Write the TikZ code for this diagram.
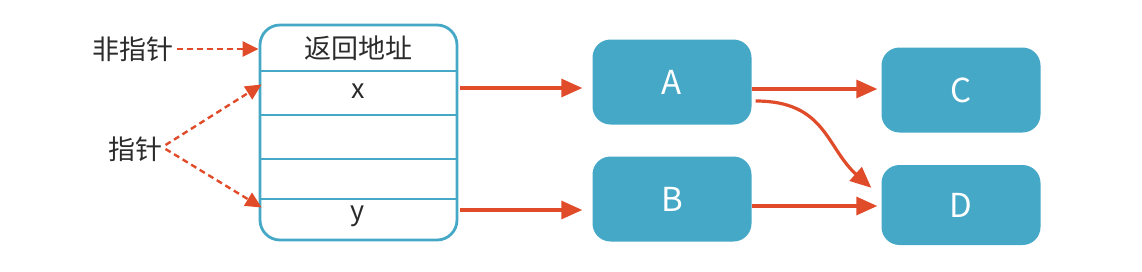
\documentclass[tikz,border=0pt]{standalone}
\usepackage{fontspec}
\usepackage{tikz}
\usetikzlibrary{arrows.meta,positioning,calc}
\usepackage{xcolor}
\newfontfamily\cjk{Noto Sans CJK SC}
\definecolor{Ink}{HTML}{2B2B2B}
\definecolor{Sea}{HTML}{44A8C6}
\definecolor{Rust}{HTML}{E04B2A}
\tikzset{
  objbox/.style={fill=Sea,rounded corners=18pt,minimum width=159pt,minimum height=85pt,
    text=white,font=\cjk\fontsize{33}{36}\selectfont},
  link/.style={Rust,line width=3.2pt,-{Triangle[length=21pt,width=18pt]}},
  ptr/.style={Rust,line width=2.4pt,dash pattern=on 6pt off 4pt,-{Triangle[length=16pt,width=15pt]}},
  lbl/.style={text=Ink,font=\cjk\fontsize{27}{30}\selectfont}
}

\begin{document}
\begin{tikzpicture}[x=1pt,y=-1pt]
\useasboundingbox (0,0) rectangle (1142,271);
% stack frame
\node[draw=Sea,line width=2.8pt,rounded corners=20pt,minimum width=197pt,minimum height=215pt] (stack) at (358.5,132.5) {};
\foreach \y in {71,115,159,199} {
  \draw[Sea,line width=2.6pt] (stack.west |- 0,\y) -- (stack.east |- 0,\y);
}
\node[lbl] (ret) at (358,48) {返回地址};
\node[lbl] (xv) at (358,91) {x};
\node[lbl] (yv) at (358,216) {y};
% labels on the left
\node[lbl] (np) at (133,49) {非指针};
\node[lbl] (pt) at (135,149) {指针};
\draw[ptr] (np.east) -- (np.east -| stack.west);
\draw[ptr] ([shift={(0pt,4pt)}]pt.east) -- ([shift={(3pt,48pt)}]stack.west);
\draw[ptr] ([shift={(0pt,0pt)}]pt.east) -- ([shift={(3pt,-75pt)}]stack.west);
% objects
\node[objbox] (A) at (672,82) {A};
\node[objbox] (B) at (672,199) {B};
\node[objbox] (C) at (961,90) {C};
\node[objbox,minimum height=80pt] (D) at (961,205) {D};
\coordinate (xo) at (460,88);
\coordinate (yo) at (460,210);
\draw[link,shorten >=10pt] (xo) -- (xo -| A.west);
\draw[link,shorten >=10pt] (yo) -- (yo -| B.west);
\draw[link,shorten >=4pt] ([yshift=-7pt]A.east) -- ([yshift=-7pt]A.east -| C.west);
\draw[link,shorten >=4pt] ([yshift=-7pt]B.east) -- ([yshift=-7pt]B.east -| D.west);
\draw[link] ([shift={(4pt,-19pt)}]A.east) .. controls +(70,0) and +(-45,-40) .. ([shift={(-10pt,-23pt)}]D.north west);
\end{tikzpicture}
\end{document}
